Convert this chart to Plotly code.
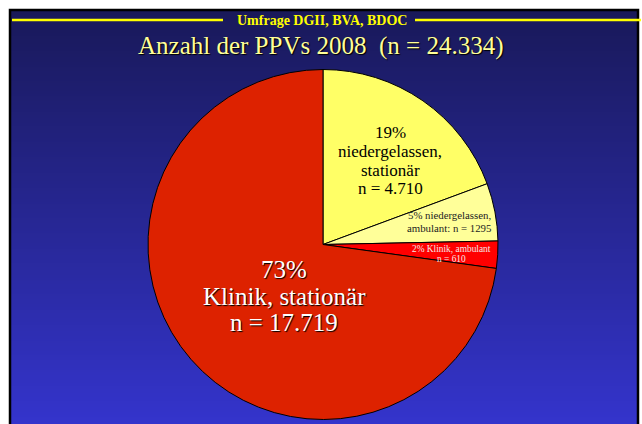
import base64
import struct
import zlib

import plotly.graph_objects as go

# ---- data ----
categories = ["niedergelassen, stationär", "niedergelassen, ambulant",
              "Klinik, ambulant", "Klinik, stationär"]
counts = [4710, 1295, 610, 17719]
percent_labels = ["19%", "5%", "2%", "73%"]
count_labels = ["4.710", "1295", "610", "17.719"]
total_label = "24.334"
slice_colors = ["#FFFF66", "#FFFF99", "#FF0000", "#DD2200"]

W, H = 642, 424


def px(x):
    return x / W


def py(y):
    return 1 - y / H


def gradient_png(c0, c1, n=256):
    rows = b""
    for i in range(n):
        t = i / (n - 1)
        c = bytes(int(round(a + (b - a) * t)) for a, b in zip(c0, c1))
        rows += b"\x00" + c
    def chunk(tag, data):
        return (struct.pack(">I", len(data)) + tag + data +
                struct.pack(">I", zlib.crc32(tag + data) & 0xFFFFFFFF))
    png = b"\x89PNG\r\n\x1a\n"
    png += chunk(b"IHDR", struct.pack(">IIBBBBB", 1, n, 8, 2, 0, 0, 0))
    png += chunk(b"IDAT", zlib.compress(rows))
    png += chunk(b"IEND", b"")
    return "data:image/png;base64," + base64.b64encode(png).decode()


fig = go.Figure()

fig.add_trace(go.Pie(
    labels=categories,
    values=counts,
    sort=False,
    direction="clockwise",
    rotation=0,
    marker=dict(colors=slice_colors, line=dict(color="#000000", width=1)),
    textinfo="none",
    hoverinfo="label+value+percent",
    showlegend=False,
    domain=dict(x=[px(148), px(498)], y=[py(419.5), py(69.5)]),
))

images = [dict(source=gradient_png((0x19, 0x19, 0x5A), (0x34, 0x34, 0xCC)),
               xref="paper", yref="paper", x=px(11), y=py(11),
               sizex=px(637) - px(11), sizey=py(11) - py(424),
               xanchor="left", yanchor="top", sizing="stretch", layer="below")]

shapes = [
    # frame
    dict(type="rect", xref="paper", yref="paper", layer="below",
         x0=px(10), x1=px(638), y0=py(430), y1=py(10),
         fillcolor="rgba(0,0,0,0)", line=dict(color="#000000", width=2.5)),
    # yellow header line
    dict(type="line", xref="paper", yref="paper", layer="below",
         x0=px(12), x1=px(223), y0=py(20), y1=py(20),
         line=dict(color="#FFFF00", width=2.5)),
    dict(type="line", xref="paper", yref="paper", layer="below",
         x0=px(415), x1=px(641), y0=py(20), y1=py(20),
         line=dict(color="#FFFF00", width=2.5)),
]

serif = "Liberation Serif, Times New Roman, serif"


def label(text, x, y, size, color, shadow=None, bold=False):
    f = dict(family=serif, size=size, color=color)
    if shadow:
        f["shadow"] = shadow
    if bold:
        f["weight"] = "bold"
    return dict(text=text, x=px(x), y=py(y), xanchor="center", yanchor="middle",
                showarrow=False, font=f)


annotations = [
    label("Umfrage DGII, BVA, BDOC", 321.5, 20.5, 14, "#FFFF00", bold=True),
    label("Anzahl der PPVs 2008  (n = %s)" % total_label, 320, 46, 25, "#FFFF99",
          shadow="1px 1px 1px #000"),
]
for txt, y in zip([percent_labels[0], "niedergelassen,", "stationär", "n = %s" % count_labels[0]],
                  [133, 152, 170, 188]):
    annotations.append(label(txt, 390, y, 17, "#000000"))
for txt, y in zip(["%s niedergelassen," % percent_labels[1], "ambulant: n = %s" % count_labels[1]],
                  [215, 228]):
    annotations.append(label(txt, 449, y, 10.8, "#222222"))
for txt, y in zip(["%s Klinik, ambulant" % percent_labels[2], "n = %s" % count_labels[2]],
                  [249, 259]):
    annotations.append(label(txt, 451, y, 9.4, "#F4E8E8"))
for txt, y in zip([percent_labels[3], "Klinik, stationär", "n = %s" % count_labels[3]],
                  [269, 296, 322]):
    annotations.append(label(txt, 284, y, 25, "#FFFFFF", shadow="1px 1px 1px #000"))

fig.update_layout(
    width=W, height=H,
    margin=dict(l=0, r=0, t=0, b=0),
    paper_bgcolor="#FFFFFF",
    plot_bgcolor="rgba(0,0,0,0)",
    shapes=shapes,
    images=images,
    annotations=annotations,
)

fig.write_html("out.html",
               config={"displayModeBar": False},
               post_script="document.body.style.margin='0px';"
                           "document.body.style.overflow='hidden';")
